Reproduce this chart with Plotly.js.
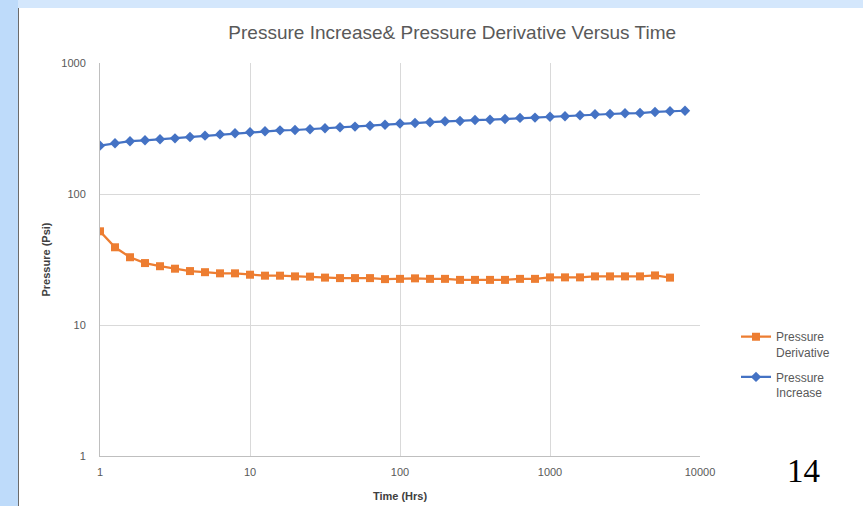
<!DOCTYPE html>
<html>
<head>
<meta charset="utf-8">
<script src="https://cdn.plot.ly/plotly-3.0.1.min.js"></script>
<style>
  html, body { margin: 0; padding: 0; width: 863px; height: 506px; overflow: hidden; background: #d4e7fc; }
  #leftband { position: absolute; left: 0; top: 0; width: 18px; height: 506px; background: #bedbfa; }
  #sheet { position: absolute; left: 18px; top: 8px; width: 845px; height: 498px; background: #ffffff; border-left: 1px solid #6b6b6b; }
  #chart { position: absolute; left: 0; top: 0; width: 863px; height: 506px; }
</style>
</head>
<body>
<div id="leftband"></div>
<div id="sheet"></div>
<div id="chart"></div>
<script>
// Time (Hrs) sample points (log-spaced, 10 per decade)
const timeHrs = [1, 1.259, 1.585, 1.995, 2.512, 3.162, 3.981, 5.012, 6.31, 7.943,
  10, 12.59, 15.85, 19.95, 25.12, 31.62, 39.81, 50.12, 63.1, 79.43,
  100, 125.9, 158.5, 199.5, 251.2, 316.2, 398.1, 501.2, 631, 794.3,
  1000, 1259, 1585, 1995, 2512, 3162, 3981, 5012, 6310, 7943];

// Pressure Increase (Psi)
const pressureIncrease = [234, 244, 253, 257, 262, 266, 272, 279, 285, 291,
  296, 301, 306, 308, 312, 318, 323, 327, 332, 338,
  345, 348, 353, 359, 361, 367, 369, 374, 381, 383,
  389, 392, 399, 406, 408, 413, 415, 423, 428, 432];

// Pressure Derivative (Psi)
const pressureDerivative = [51.9, 39.2, 32.9, 29.7, 28.1, 26.9, 25.8, 25.3, 24.8, 24.8,
  24.2, 23.8, 23.8, 23.5, 23.4, 23.0, 22.8, 22.8, 22.8, 22.4,
  22.5, 22.7, 22.5, 22.5, 22.1, 22.1, 22.1, 22.1, 22.5, 22.5,
  23.1, 23.1, 23.1, 23.5, 23.5, 23.5, 23.5, 23.9, 23.0];

const xTickVals = [1, 10, 100, 1000, 10000];
const xTickText = ["1", "10", "100", "1000", "10000"];
const yTickVals = [1, 10, 100, 1000];
const yTickText = ["1", "10", "100", "1000"];

const gray = "#595959";
const baseFont = "Liberation Sans, Arial, sans-serif";

const traces = [
  {
    x: timeHrs.slice(0, pressureDerivative.length),
    y: pressureDerivative,
    name: "Pressure<br>Derivative",
    legendgroup: "derivative",
    type: "scatter",
    mode: "lines+markers",
    line: { color: "#ed7d31", width: 2.25 },
    marker: { symbol: "square", size: 8, color: "#ed7d31" }
  },
  {
    x: timeHrs,
    y: pressureIncrease,
    name: "Pressure<br>Increase",
    legendgroup: "increase",
    type: "scatter",
    mode: "lines+markers",
    line: { color: "#4472c4", width: 2.25 },
    marker: { symbol: "diamond", size: 8, color: "#4472c4" }
  }
];

const layout = {
  width: 863,
  height: 506,
  paper_bgcolor: "rgba(0,0,0,0)",
  plot_bgcolor: "#ffffff",
  margin: { l: 100, r: 163, t: 63, b: 49.5 },
  font: { family: baseFont, color: gray, size: 11 },
  title: {
    text: "Pressure Increase& Pressure Derivative Versus Time",
    font: { family: "Liberation Sans Narrow, Liberation Sans, Arial, sans-serif", size: 19, color: gray },
    xref: "container", x: 0.524, xanchor: "center",
    yref: "container", y: 1 - 32 / 506, yanchor: "middle"
  },
  xaxis: {
    type: "log",
    range: [0, 4],
    tickvals: xTickVals,
    ticktext: xTickText,
    showgrid: true,
    gridcolor: "#d9d9d9",
    gridwidth: 1,
    showline: true,
    linecolor: "#bfbfbf",
    linewidth: 1,
    zeroline: false,
    ticks: "",
    ticklabelstandoff: 6,
    tickfont: { size: 11, color: gray },
    title: { text: "<b>Time (Hrs)</b>", font: { size: 11, color: "#404040" }, standoff: 15 }
  },
  yaxis: {
    type: "log",
    range: [0, 3],
    tickvals: yTickVals,
    ticktext: yTickText,
    showgrid: true,
    gridcolor: "#d9d9d9",
    gridwidth: 1,
    showline: true,
    linecolor: "#bfbfbf",
    linewidth: 1,
    zeroline: false,
    ticks: "",
    ticklabelstandoff: 11,
    tickfont: { size: 11, color: gray },
    title: { text: "<b>Pressure (Psi)</b>", font: { size: 11, color: "#404040" }, standoff: 8 }
  },
  showlegend: true,
  legend: {
    x: 1.06, xanchor: "left",
    y: 0.34, yanchor: "top",
    valign: "top",
    bgcolor: "rgba(0,0,0,0)",
    font: { size: 12, color: gray },
    tracegroupgap: 6,
    traceorder: "grouped"
  },
  annotations: [
    {
      text: "14",
      xref: "paper", yref: "paper",
      x: (803 - 100) / 600, y: (456.5 - 472) / 393.5,
      xanchor: "center", yanchor: "middle",
      showarrow: false,
      font: { family: "Liberation Serif, Times New Roman, serif", size: 33, color: "#000000" }
    }
  ]
};

Plotly.newPlot("chart", traces, layout, { displayModeBar: false, staticPlot: true });
</script>
</body>
</html>
